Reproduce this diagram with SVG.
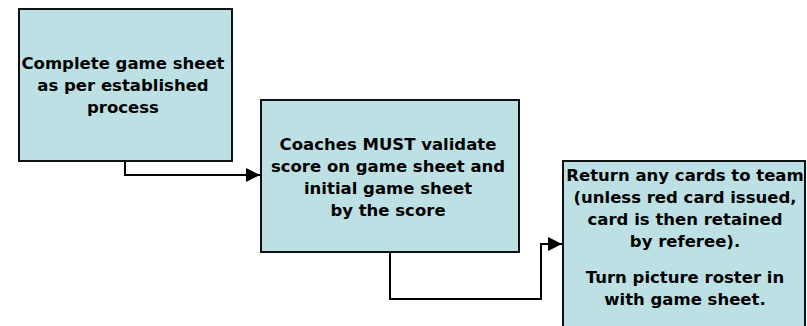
<svg xmlns="http://www.w3.org/2000/svg" width="807" height="326" viewBox="0 0 807 326">
<style>
.box{fill:#bce0e4;stroke:#111;stroke-width:2}
.t{font-family:"DejaVu Sans","Verdana",sans-serif;font-weight:bold;font-size:16.5px;fill:#000;text-anchor:middle}
.c{fill:none;stroke:#000;stroke-width:2}
</style>
<defs>
<marker id="ah" viewBox="0 0 14 14" refX="14" refY="7" markerWidth="14" markerHeight="14" markerUnits="userSpaceOnUse" orient="auto">
<path d="M0,0 L14,7 L0,14 Z" fill="#000"/>
</marker>
</defs>
<g id="connectors">
<path class="c" d="M125,161 V175 H260" marker-end="url(#ah)"/>
<path class="c" d="M390,252 V299 H541 V244 H562" marker-end="url(#ah)"/>
</g>
<g id="node1">
<rect class="box" x="19" y="9" width="213" height="152"/>
<text class="t" x="123" y="69">Complete game sheet</text>
<text class="t" x="123" y="91">as per established</text>
<text class="t" x="123" y="113">process</text>
</g>
<g id="node2">
<rect class="box" x="261" y="100" width="258" height="152"/>
<text class="t" x="388" y="150">Coaches MUST validate</text>
<text class="t" x="388" y="172">score on game sheet and</text>
<text class="t" x="388" y="194">initial game sheet</text>
<text class="t" x="388" y="216">by the score</text>
</g>
<g id="node3">
<rect class="box" x="563" y="161" width="242" height="180"/>
<text class="t" x="685" y="181">Return any cards to team</text>
<text class="t" x="685" y="203">(unless red card issued,</text>
<text class="t" x="685" y="225">card is then retained</text>
<text class="t" x="685" y="247">by referee).</text>
<text class="t" x="685" y="283">Turn picture roster in</text>
<text class="t" x="685" y="305">with game sheet.</text>
</g>
</svg>
